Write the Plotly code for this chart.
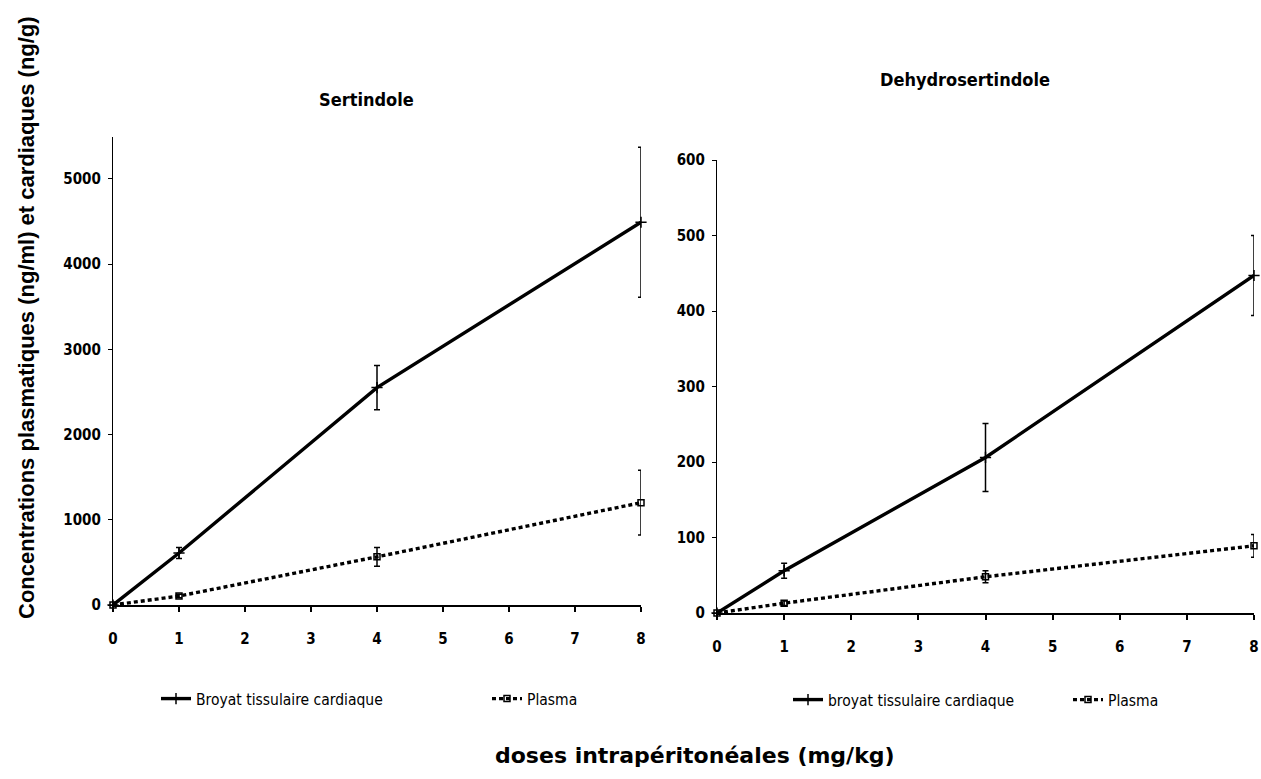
import plotly.graph_objects as go

# Doses (mg/kg) and mean concentrations with their error bars
doses = [0, 1, 4, 8]

sert_cardiac = [0, 610, 2550, 4490]
sert_cardiac_err = [0, 65, 260, 880]
sert_plasma = [0, 105, 565, 1200]
sert_plasma_err = [0, 20, 110, 380]

dehydro_cardiac = [0, 56, 206, 447]
dehydro_cardiac_err = [0, 10, 45, 53]
dehydro_plasma = [0, 13, 48, 89]
dehydro_plasma_err = [0, 3, 8, 15]

x_ticks = [0, 1, 2, 3, 4, 5, 6, 7, 8]
sert_y_ticks = [0, 1000, 2000, 3000, 4000, 5000]
dehydro_y_ticks = [0, 100, 200, 300, 400, 500, 600]

left_labels = ["Broyat tissulaire cardiaque", "Plasma"]
right_labels = ["broyat tissulaire cardiaque", "Plasma"]

NARROW = "DejaVu Sans Condensed, DejaVu Sans, sans-serif"
W, H = 1261, 779

fig = go.Figure()


def add_series(x, y, err, name, xa, ya, legend, dashed):
    fig.add_trace(go.Scatter(
        x=x, y=y, name=name, mode="lines+markers",
        xaxis=xa, yaxis=ya, legend=legend, cliponaxis=False,
        line=dict(color="black", width=3.4, dash="4px,3px" if dashed else "solid"),
        marker=dict(symbol="square-open" if dashed else "cross-thin",
                    size=6 if dashed else 8, color="black",
                    line=dict(color="black", width=1.5)),
        error_y=dict(type="data", array=err, visible=True,
                     color="black", thickness=1.5, width=3),
    ))


add_series(doses, sert_cardiac, sert_cardiac_err, left_labels[0], "x", "y", "legend", False)
add_series(doses, sert_plasma, sert_plasma_err, left_labels[1], "x", "y", "legend2", True)
add_series(doses, dehydro_cardiac, dehydro_cardiac_err, right_labels[0], "x2", "y2", "legend3", False)
add_series(doses, dehydro_plasma, dehydro_plasma_err, right_labels[1], "x2", "y2", "legend4", True)

tick_font = dict(family=NARROW, size=15, color="black", weight="bold")

xaxis_common = dict(range=[0, 8], tickvals=x_ticks, showline=True, linecolor="black",
                    linewidth=2, ticks="outside", ticklen=5, tickwidth=1.5,
                    tickcolor="black", showgrid=False, zeroline=False,
                    tickfont=tick_font, ticklabelstandoff=14, ticklabeloverflow="allow",
                    fixedrange=True)
yaxis_common = dict(showline=True, linecolor="black", linewidth=1.2, ticks="outside",
                    ticklen=4, tickwidth=1.2, tickcolor="black", showgrid=False,
                    zeroline=False, tickfont=tick_font, ticklabelstandoff=4, fixedrange=True)


def legend_box(x, y):
    return dict(orientation="h", x=x / W, y=1 - y / H, xanchor="left", yanchor="middle",
                font=dict(family=NARROW, size=15.5, color="black"),
                itemwidth=30, bgcolor="rgba(0,0,0,0)", borderwidth=0)


def ann(text, x, y, size, family, angle=0):
    return dict(text=text, x=x / W, y=1 - y / H, xref="paper", yref="paper",
                xanchor="center", yanchor="middle", textangle=angle, showarrow=False,
                font=dict(family=family, size=size, color="black"))


fig.update_layout(
    width=W, height=H, autosize=False,
    margin=dict(l=0, r=0, t=0, b=0, autoexpand=False),
    paper_bgcolor="white", plot_bgcolor="white",
    showlegend=True,
    xaxis=dict(domain=[113 / W, 641 / W], anchor="y", **xaxis_common),
    yaxis=dict(domain=[1 - 605 / H, 1 - 137 / H], range=[0, 5490], tickvals=sert_y_ticks,
               anchor="x", **yaxis_common),
    xaxis2=dict(domain=[717 / W, 1254 / W], anchor="y2", **xaxis_common),
    yaxis2=dict(domain=[1 - 613 / H, 1 - 160 / H], range=[0, 600], tickvals=dehydro_y_ticks,
                anchor="x2", **yaxis_common),
    legend=legend_box(156, 699),
    legend2=legend_box(487, 699),
    legend3=legend_box(788, 700),
    legend4=legend_box(1068, 700),
    annotations=[
        ann("<b>Sertindole</b>", 366, 100, 18, NARROW),
        ann("<b>Dehydrosertindole</b>", 965, 80, 18, NARROW),
        ann("<b>Concentrations plasmatiques (ng/ml) et cardiaques (ng/g)</b>", 26, 318, 22,
            "Liberation Sans, Arial, sans-serif", -90),
        ann("<b>doses intrapéritonéales (mg/kg)</b>", 695, 755, 22,
            "DejaVu Sans, Verdana, sans-serif"),
    ],
)

fig.write_html("out.html")
